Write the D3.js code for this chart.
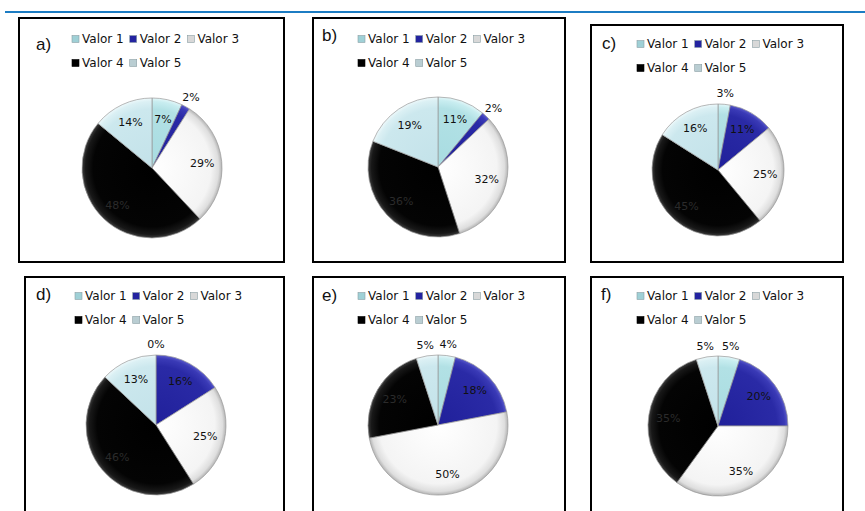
<!DOCTYPE html>
<html>
<head>
<meta charset="utf-8">
<script src="https://cdn.jsdelivr.net/npm/d3@7"></script>
<style>
  body { margin: 0; background: #fff; }
  svg { display: block; }
</style>
</head>
<body>
<script>
'use strict';

// series names (legend order = slice order, clockwise from 12 o'clock)
const categories = ["Valor 1", "Valor 2", "Valor 3", "Valor 4", "Valor 5"];
const panelNames = ["a)", "b)", "c)", "d)", "e)", "f)"];

// percentages
const valuesA = [7, 2, 29, 48, 14];
const valuesB = [11, 2, 32, 36, 19];
const valuesC = [3, 11, 25, 45, 16];
const valuesD = [0, 16, 25, 46, 13];
const valuesE = [4, 18, 50, 23, 5];
const valuesF = [5, 20, 35, 35, 5];
const allValues = [valuesA, valuesB, valuesC, valuesD, valuesE, valuesF];

// box / pie / legend placement per panel
const layout = [
  {x: 19,  y: 18,  w: 265, h: 244, lx: 36,  ly: 50,  gx: 72,  gy: 39,  cx: 152, cy: 168, r: 70},
  {x: 313, y: 18,  w: 252, h: 244, lx: 322, ly: 41,  gx: 358, gy: 39,  cx: 438, cy: 167, r: 70},
  {x: 591, y: 25,  w: 252, h: 237, lx: 602, ly: 49,  gx: 637, gy: 44,  cx: 718, cy: 170, r: 66},
  {x: 25,  y: 277, w: 259, h: 260, lx: 36,  ly: 300, gx: 75,  gy: 296, cx: 156, cy: 425, r: 70},
  {x: 313, y: 277, w: 252, h: 260, lx: 322, ly: 301, gx: 358, gy: 296, cx: 438, cy: 425, r: 70},
  {x: 591, y: 277, w: 252, h: 260, lx: 601, ly: 300, gx: 637, gy: 296, cx: 718, cy: 426, r: 70}
];

// bevel-like radial shading per series
const shades = [
  ["#a8dce1", "#b2e1e5", "#c8edf0", "#e4f7f9"],
  ["#20209a", "#2a2aa6", "#3a3ab6", "#5a5acb"],
  ["#ffffff", "#f4f4f4", "#dedede", "#b4b4b4"],
  ["#000000", "#040404", "#181818", "#3c3c3c"],
  ["#c3e2e9", "#cce8ee", "#dbf0f4", "#eef9fb"]
];
const swatchColors = ["#9fd0d6", "#2323a0", "#d8d8d8", "#000000", "#b9cdd2"];

const svg = d3.select("body").append("svg")
  .attr("width", 865)
  .attr("height", 511);

const defs = svg.append("defs");

// blue rule at the top
svg.append("line")
  .attr("x1", 5).attr("x2", 865)
  .attr("y1", 12).attr("y2", 12)
  .attr("stroke", "#1c7cc3")
  .attr("stroke-width", 2);

const pie = d3.pie().sort(null).value(d => d);

allValues.forEach((values, p) => {
  const L = layout[p];

  // frame
  svg.append("rect")
    .attr("x", L.x).attr("y", L.y)
    .attr("width", L.w).attr("height", L.h)
    .attr("fill", "#fff")
    .attr("stroke", "#000")
    .attr("stroke-width", 2);

  // panel letter
  svg.append("text")
    .attr("x", L.lx).attr("y", L.ly)
    .attr("font-family", "Liberation Sans, Arial, sans-serif")
    .attr("font-size", "17px")
    .attr("fill", "#111")
    .text(panelNames[p]);

  // legend: 3 items on the first row, 2 on the second
  const legend = svg.append("g").attr("transform", "translate(" + L.gx + "," + L.gy + ")");
  let lx = 0, row = 0;
  categories.forEach((c, i) => {
    if (i === 3) { lx = 0; row = 1; }
    const g = legend.append("g").attr("transform", "translate(" + lx + "," + (row * 24) + ")");
    g.append("rect")
      .attr("x", 0).attr("y", -3.5)
      .attr("width", 7).attr("height", 7)
      .attr("fill", swatchColors[i])
      .attr("stroke", i === 3 ? "#000" : "#8a9ea3")
      .attr("stroke-width", 0.6);
    const t = g.append("text")
      .attr("x", 10).attr("y", 4.2)
      .attr("font-family", "DejaVu Sans, sans-serif")
      .attr("font-size", "12px")
      .attr("fill", "#111")
      .text(c);
    lx += 10 + t.node().getComputedTextLength() + 6;
  });

  // gradients for this pie
  shades.forEach((s, i) => {
    const grad = defs.append("radialGradient")
      .attr("id", "g" + p + "_" + i)
      .attr("gradientUnits", "userSpaceOnUse")
      .attr("cx", 0).attr("cy", 0).attr("r", L.r);
    [0, 0.84, 0.95, 1].forEach((o, k) => {
      grad.append("stop").attr("offset", o).attr("stop-color", s[k]);
    });
  });

  const arc = d3.arc().innerRadius(0).outerRadius(L.r);
  const inLabel = d3.arc().innerRadius(L.r * 0.72).outerRadius(L.r * 0.72);
  const outLabel = d3.arc().innerRadius(L.r + 11).outerRadius(L.r + 11);

  const g = svg.append("g").attr("transform", "translate(" + L.cx + "," + L.cy + ")");
  const arcs = pie(values);

  g.selectAll("path")
    .data(arcs)
    .enter()
    .append("path")
      .attr("d", arc)
      .attr("fill", (d, i) => "url(#g" + p + "_" + i + ")")
      .attr("stroke", "#9a9a9a")
      .attr("stroke-width", 0.7);

  g.selectAll("text")
    .data(arcs)
    .enter()
    .append("text")
      .attr("transform", d => "translate(" + (d.data < 6 ? outLabel : inLabel).centroid(d) + ")")
      .attr("text-anchor", "middle")
      .attr("dy", "0.35em")
      .attr("font-family", "DejaVu Sans, sans-serif")
      .attr("font-size", "11px")
      .attr("fill", (d, i) => i === 3 ? "#2b2b2b" : "#111")
      .text(d => d.data + "%");
});
</script>
</body>
</html>
